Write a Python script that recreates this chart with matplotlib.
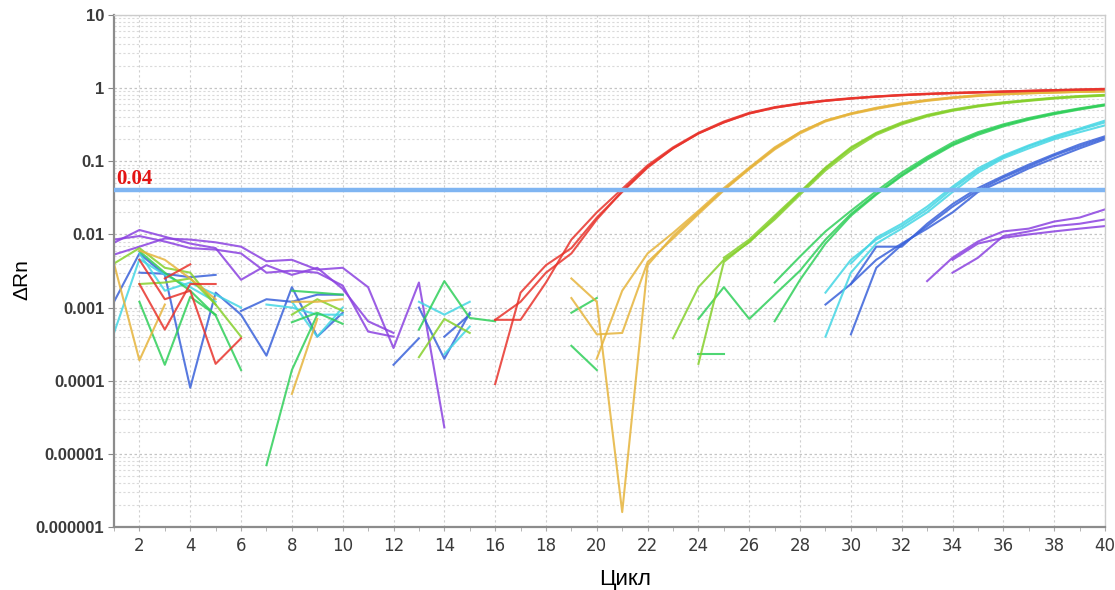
import numpy as np
import matplotlib
matplotlib.use("Agg")
import matplotlib.pyplot as plt
from matplotlib.ticker import FixedLocator, NullFormatter

# colours of the sample groups
RED = '#e8342c'
ORANGE = '#e6b43c'
YGREEN = '#86d02c'
GREEN = '#30cf5a'
CYAN = '#44d6e4'
BLUE = '#3a62da'
PURPLE = '#8b42e0'

threshold = 0.04

# amplification curves : (first cycle, values)
red_1 = (16, [0.00009, 0.0016, 0.0038, 0.0065, 0.017, 0.038, 0.082, 0.15, 0.24, 0.34, 0.45, 0.54,
              0.61, 0.67, 0.72, 0.76, 0.80, 0.83, 0.85, 0.87, 0.89, 0.91, 0.93, 0.95, 0.96])
red_2 = (16, [0.00068, 0.00068, 0.0022, 0.0085, 0.020, 0.042, 0.088, 0.155, 0.245, 0.35, 0.46, 0.55,
              0.62, 0.68, 0.73, 0.77, 0.81, 0.84, 0.86, 0.88, 0.90, 0.92, 0.94, 0.96, 0.98])
red_3 = (16, [0.00068, 0.0012, 0.0030, 0.0055, 0.016, 0.039, 0.084, 0.15, 0.24, 0.34, 0.45, 0.54,
              0.61, 0.67, 0.72, 0.77, 0.80, 0.83, 0.86, 0.88, 0.90, 0.92, 0.94, 0.95, 0.97])

orange_1 = (19, [0.0025, 0.0012, 0.0000016, 0.0038, 0.0095, 0.020, 0.041, 0.080, 0.15, 0.25, 0.36,
                 0.45, 0.53, 0.61, 0.68, 0.74, 0.79, 0.83, 0.85, 0.87, 0.89, 0.90])
orange_2 = (19, [0.00135, 0.00043, 0.00045, 0.0042, 0.0088, 0.019, 0.040, 0.078, 0.145, 0.24, 0.35,
                 0.44, 0.52, 0.60, 0.67, 0.73, 0.78, 0.82, 0.85, 0.87, 0.89, 0.90])
orange_3 = (20, [0.0002, 0.0017, 0.0055, 0.0105, 0.021, 0.043, 0.082, 0.155, 0.25, 0.36, 0.45,
                 0.54, 0.62, 0.69, 0.75, 0.80, 0.84, 0.86, 0.88, 0.89, 0.91])

ygreen_1 = (23, [0.00038, 0.0019, 0.0045, 0.0078, 0.017, 0.037, 0.080, 0.15, 0.24, 0.33, 0.42,
                 0.50, 0.57, 0.63, 0.68, 0.73, 0.77, 0.80])
ygreen_2 = (24, [0.00017, 0.0042, 0.0080, 0.016, 0.035, 0.075, 0.14, 0.23, 0.32, 0.41, 0.49,
                 0.56, 0.62, 0.67, 0.72, 0.76, 0.79])
ygreen_3 = (25, [0.0048, 0.0085, 0.018, 0.038, 0.082, 0.155, 0.245, 0.34, 0.43, 0.51, 0.58,
                 0.64, 0.69, 0.74, 0.78, 0.81])

green_1 = (24, [0.0007, 0.0019, 0.0007, 0.0015, 0.0032, 0.0085, 0.019, 0.036, 0.065, 0.11, 0.17,
                0.24, 0.31, 0.38, 0.45, 0.52, 0.59])
green_2 = (27, [0.0022, 0.0050, 0.011, 0.021, 0.039, 0.070, 0.115, 0.18, 0.25, 0.32, 0.39,
                0.46, 0.53, 0.60])
green_3 = (27, [0.00065, 0.0024, 0.0075, 0.018, 0.035, 0.063, 0.105, 0.165, 0.23, 0.30, 0.37,
                0.44, 0.51, 0.58])

cyan_1 = (29, [0.0016, 0.0045, 0.0085, 0.013, 0.022, 0.042, 0.075, 0.115, 0.16, 0.21, 0.27, 0.34])
cyan_2 = (29, [0.0004, 0.0030, 0.0075, 0.012, 0.020, 0.038, 0.070, 0.11, 0.15, 0.20, 0.25, 0.31])
cyan_3 = (30, [0.0040, 0.0090, 0.014, 0.024, 0.045, 0.080, 0.12, 0.165, 0.22, 0.28, 0.36])

blue_1 = (29, [0.0011, 0.0021, 0.0045, 0.0075, 0.012, 0.020, 0.038, 0.055, 0.080, 0.11, 0.15, 0.20])
blue_2 = (30, [0.00043, 0.0035, 0.0072, 0.013, 0.024, 0.040, 0.060, 0.085, 0.12, 0.16, 0.21])
blue_3 = (30, [0.0021, 0.0068, 0.0068, 0.014, 0.026, 0.043, 0.063, 0.090, 0.125, 0.17, 0.22])

purple_1 = (33, [0.0023, 0.0048, 0.0080, 0.011, 0.012, 0.015, 0.017, 0.022])
purple_2 = (34, [0.0030, 0.0048, 0.0095, 0.011, 0.013, 0.014, 0.016])
purple_3 = (34, [0.0045, 0.0075, 0.0090, 0.010, 0.011, 0.012, 0.013])

# background noise fragments of the early cycles
purple_noise = [
    (1, [0.0077, 0.0115, 0.0093, 0.0075, 0.0065, 0.0024, 0.0038, 0.0028, 0.0035, 0.0018, 0.00065, 0.00045]),
    (1, [0.0053, 0.0068, 0.0088, 0.0085, 0.0078, 0.0068, 0.0043, 0.0045, 0.0033, 0.0035, 0.0019, 0.00028,
         0.0022, 0.000023]),
    (1, [0.0085, 0.0095, 0.0080, 0.0065, 0.0062, 0.0055, 0.0030, 0.0032, 0.0030, 0.0020, 0.00047, 0.0004]),
]
blue_noise = [
    (1, [0.0012, 0.0055, 0.0028, 0.00008, 0.0016, 0.0008, 0.00022, 0.0019, 0.0004, 0.00085]),
    (2, [0.0030, 0.0029, 0.0026, 0.0028]),
    (6, [0.0009, 0.0013, 0.0012, 0.0015, 0.0015]),
    (12, [0.000165, 0.00038]),
    (13, [0.0010, 0.0002, 0.00085]),
    (14, [0.0004, 0.0008]),
]
cyan_noise = [
    (1, [0.00045, 0.0046, 0.0028, 0.0019, 0.0012]),
    (2, [0.0055, 0.0017, 0.0022, 0.0015, 0.0010]),
    (7, [0.0011, 0.0010, 0.0008, 0.0008]),
    (8, [0.0012, 0.0004, 0.0010]),
    (13, [0.0012, 0.0008, 0.0012]),
    (14, [0.00023, 0.00055]),
]
green_noise = [
    (2, [0.0012, 0.000165, 0.0014, 0.0008]),
    (2, [0.0059, 0.0030, 0.0017, 0.00078, 0.00014]),
    (7, [0.000007, 0.00014, 0.0008]),
    (8, [0.0017, 0.0016, 0.0015]),
    (8, [0.00063, 0.00085, 0.0006]),
    (13, [0.0005, 0.0023, 0.00072, 0.00065]),
    (19, [0.00085, 0.00135]),
    (19, [0.0003, 0.00014]),
    (24, [0.00023, 0.00023]),
]
ygreen_noise = [
    (1, [0.0040, 0.0065, 0.0035, 0.0030, 0.0011, 0.0004]),
    (2, [0.0021, 0.0022, 0.0025, 0.0011]),
    (8, [0.0008, 0.0013, 0.0009]),
    (13, [0.00021, 0.0007, 0.00045]),
]
orange_noise = [
    (1, [0.0040, 0.00019, 0.0011]),
    (8, [0.000066, 0.0007]),
    (8, [0.0012, 0.0012, 0.0013]),
    (2, [0.0060, 0.0045, 0.0025, 0.0013]),
]
red_noise = [
    (2, [0.0021, 0.0005, 0.0021, 0.0021]),
    (2, [0.0045, 0.0013, 0.0017, 0.00017, 0.00038]),
    (3, [0.0025, 0.0039]),
]

groups = [
    (PURPLE, purple_noise + [purple_1, purple_2, purple_3]),
    (BLUE, blue_noise + [blue_1, blue_2, blue_3]),
    (CYAN, cyan_noise + [cyan_1, cyan_2, cyan_3]),
    (GREEN, green_noise + [green_1, green_2, green_3]),
    (YGREEN, ygreen_noise + [ygreen_1, ygreen_2, ygreen_3]),
    (ORANGE, orange_noise + [orange_1, orange_2, orange_3]),
    (RED, red_noise + [red_1, red_2, red_3]),
]

fig = plt.figure(figsize=(11.15, 5.9), dpi=100)
ax = fig.add_axes([114 / 1115, 1 - 527 / 590, 991 / 1115, 512 / 590])

ax.set_yscale('log')
ax.set_xlim(1, 40)
ax.set_ylim(1e-6, 10)

# grid
ax.xaxis.set_major_locator(FixedLocator(range(2, 41, 2)))
ax.xaxis.set_minor_locator(FixedLocator(range(1, 41)))
yt = [1e-6, 1e-5, 1e-4, 1e-3, 1e-2, 1e-1, 1, 10]
ax.yaxis.set_major_locator(FixedLocator(yt))
ax.yaxis.set_minor_locator(FixedLocator([m * d for d in yt[:-1] for m in range(2, 10)]))
ax.yaxis.set_minor_formatter(NullFormatter())
ax.grid(which='major', axis='x', color='#cfcfcf', linestyle=(0, (2, 2.5)), lw=0.8)
ax.grid(which='major', axis='y', color='#c4c4c4', linestyle=(0, (2, 2)), lw=0.9)
ax.grid(which='minor', axis='y', color='#dadada', linestyle=(0, (2, 2)), lw=0.8)
ax.set_axisbelow(True)

ax.set_yticklabels(['0.000001', '0.00001', '0.0001', '0.001', '0.01', '0.1', '1', '10'],
                   fontsize=12, fontweight='bold', color='#3a3a3a', family=['Liberation Sans', 'DejaVu Sans'])
ax.set_xticklabels([str(c) for c in range(2, 41, 2)], fontsize=12, color='#3a3a3a',
                   family=['Liberation Sans Narrow', 'DejaVu Sans'])
ax.tick_params(axis='y', which='major', length=4, color='#888888', pad=3)
ax.tick_params(axis='y', which='minor', length=0)
ax.tick_params(axis='x', which='both', length=3, color='#aaaaaa', pad=4)

for s in ['left', 'bottom']:
    ax.spines[s].set_color('#8c8c8c')
    ax.spines[s].set_linewidth(1.6)
for s in ['top', 'right']:
    ax.spines[s].set_color('#cccccc')
    ax.spines[s].set_linewidth(1.0)

for color, traces in groups:
    for start, vals in traces:
        cyc = np.arange(start, start + len(vals))
        ax.plot(cyc, vals, color=color, lw=1.5, alpha=0.85)

ax.axhline(threshold, color='#7fb5f2', lw=3.2, zorder=5)
ax.text(1.08, threshold * 1.06, '0.04', color='#e31414', fontsize=15, fontweight='bold',
        family=['Liberation Serif', 'DejaVu Serif'], va='bottom', ha='left', zorder=6)

fig.text(22 / 1115, 1 - 280 / 590, 'ΔRn', rotation=90, fontsize=15, ha='center', va='center',
         family=['Liberation Sans', 'DejaVu Sans'])
fig.text(625 / 1115, 1 - 579 / 590, 'Цикл', fontsize=16, ha='center', va='center',
         family=['Liberation Sans', 'DejaVu Sans'])

fig.savefig('out.png', dpi=100)
